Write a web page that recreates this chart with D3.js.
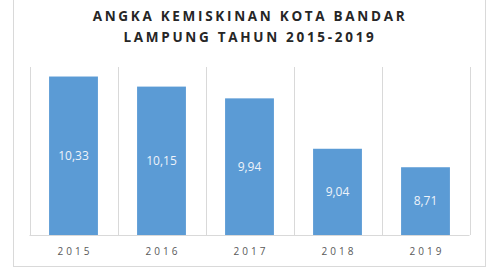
<!DOCTYPE html>
<html><head><meta charset="utf-8">
<script src="https://cdn.jsdelivr.net/npm/d3@7"></script>
<style>body{margin:0;background:#fff;} svg{display:block;}</style>
</head><body>
<svg id="c" width="497" height="267"></svg>
<script>
const titleLines = ["ANGKA KEMISKINAN KOTA BANDAR", "LAMPUNG TAHUN 2015-2019"];
const years = ["2015", "2016", "2017", "2018", "2019"];
const values = [10.33, 10.15, 9.94, 9.04, 8.71];
const labels = ["10,33", "10,15", "9,94", "9,04", "8,71"];
const yDomain = [7.5, 10.5];

(function(){
const svg = d3.select("#c");
const pL = 29.5, pR = 469.5, pT = 67, pB = 235;

// outer frame
svg.append("rect").attr("x", 13.5).attr("y", -1).attr("width", 472).attr("height", 267.5)
  .attr("fill", "none").attr("stroke", "#d9d9d9").attr("stroke-width", 1);

const x = d3.scaleBand().domain(years).range([pL, pR]).paddingInner(0).paddingOuter(0);
const y = d3.scaleLinear().domain(yDomain).range([pB, pT]);

// vertical gridlines at category boundaries
const bounds = years.map(d => x(d)).concat([x(years[years.length-1]) + x.bandwidth()]);
svg.append("g").selectAll("line").data(bounds).join("line")
  .attr("x1", d => Math.round(d) + 0.5).attr("x2", d => Math.round(d) + 0.5)
  .attr("y1", pT).attr("y2", pB)
  .attr("stroke", "#d9d9d9").attr("stroke-width", 1);

// bars
const bw = x.bandwidth() * 0.555;
svg.append("g").selectAll("rect").data(values).join("rect")
  .attr("x", (d, i) => x(years[i]) + (x.bandwidth() - bw) / 2)
  .attr("y", d => y(d))
  .attr("width", bw)
  .attr("height", d => pB - y(d))
  .attr("fill", "#5b9bd5");

// baseline
svg.append("line").attr("x1", pL).attr("x2", pR).attr("y1", pB + 0.5).attr("y2", pB + 0.5)
  .attr("stroke", "#d9d9d9");

// value labels
svg.append("g").selectAll("text").data(values).join("text")
  .attr("x", (d, i) => x(years[i]) + x.bandwidth() / 2)
  .attr("y", d => (y(d) + pB) / 2)
  .attr("dy", "0.35em")
  .attr("text-anchor", "middle")
  .attr("font-family", "'Open Sans', sans-serif")
  .attr("font-size", 12)
  .attr("fill", "#eef3fa")
  .text((d, i) => labels[i]);

// x axis labels
svg.append("g").selectAll("text").data(years).join("text")
  .attr("x", d => x(d) + x.bandwidth() / 2 + 1.5)
  .attr("y", 251)
  .attr("dy", "0.35em")
  .attr("text-anchor", "middle")
  .attr("font-family", "'Open Sans', sans-serif")
  .attr("font-size", 10)
  .attr("letter-spacing", "3px")
  .attr("fill", "#595959")
  .text(d => d);

// title
svg.append("g").selectAll("text").data(titleLines).join("text")
  .attr("x", 250)
  .attr("y", (d, i) => 16 + i * 21.5)
  .attr("dy", "0.35em")
  .attr("text-anchor", "middle")
  .attr("font-family", "'Open Sans', sans-serif")
  .attr("font-weight", "bold")
  .attr("font-size", 13.5)
  .attr("letter-spacing", "2.7px")
  .attr("fill", "#262626")
  .text(d => d);
})();
</script>
</body></html>
